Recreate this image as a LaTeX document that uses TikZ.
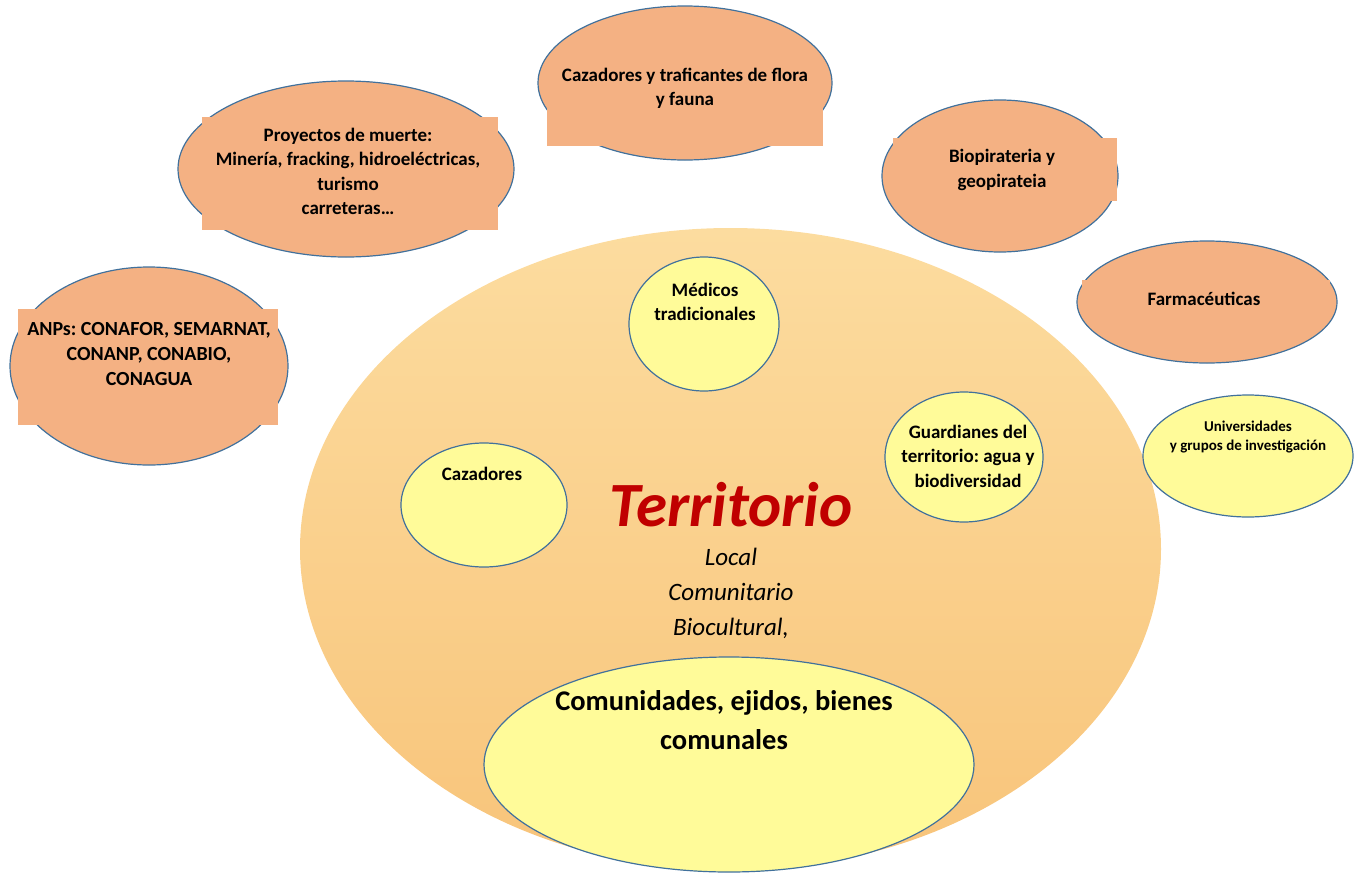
\documentclass[tikz,border=0pt]{standalone}
\usepackage{fontspec}
\setmainfont{Carlito}
\usepackage{xcolor}
\usepackage{tikz}
\usetikzlibrary{shapes.geometric}
\definecolor{terrlight}{HTML}{FCDC9F}
\definecolor{terrdeep}{HTML}{F8C47A}
\definecolor{actorsalmon}{HTML}{F4B183}
\definecolor{localyellow}{HTML}{FFFB99}
\definecolor{edgeblue}{HTML}{41719C}
\definecolor{terrred}{HTML}{C00000}
\frenchspacing

\begin{document}
\begin{tikzpicture}[x=1pt,y=-1pt,
 actorell/.style={ellipse,draw=edgeblue,line width=1.2pt,fill=actorsalmon,inner sep=0pt},
 localell/.style={ellipse,draw=edgeblue,line width=1.2pt,fill=localyellow,inner sep=0pt},
 lbl/.style={align=center,inner sep=0pt,text=black,font=\bfseries\fontsize{19}{24.5}\selectfont}]
% Canvas 1361 x 873 px, 1 px = 1 pt, y grows downwards
\useasboundingbox (0,0) rectangle (1361,873);

% ── Territory (shaded big ellipse) ──────────────────────────────
\node[ellipse,inner sep=0pt,minimum width=861,minimum height=642,
 top color=terrlight,bottom color=terrdeep] (terr) at (730.5,549) {};

% ── External actors (salmon ellipses, text box patches) ────────
\node[actorell,minimum width=336,minimum height=176] (proy) at (346,169) {};
\fill[actorsalmon] (202,117) rectangle (498,230);
\node[lbl] (proyT) at (348,171.5)
 {Proyectos de muerte:\\Minería, fracking, hidroeléctricas,\\turismo\\carreteras…};

\node[actorell,minimum width=278,minimum height=198] (anp) at (149,366) {};
\fill[actorsalmon] (18,309) rectangle (278,425);
\node[lbl,font=\bfseries\fontsize{20}{25}\selectfont] (anpT) at (149,354)
 {ANPs: CONAFOR, SEMARNAT,\\CONANP, CONABIO,\\CONAGUA};

\node[actorell,minimum width=294,minimum height=154] (traf) at (685,83) {};
\fill[actorsalmon] (547,58) rectangle (823,146);
\node[lbl] (trafT) at (685,88.5) {Cazadores y traficantes de flora\\y fauna};

\node[actorell,minimum width=236,minimum height=152] (bio) at (1000,176) {};
\fill[actorsalmon] (893,138) rectangle (1117,201);
\node[lbl] (bioT) at (1002,170) {Biopirateria y\\geopirateia};

\node[actorell,minimum width=260,minimum height=122] (farma) at (1207,302) {};
\fill[actorsalmon] (1082,280) rectangle (1330,318);
\node[lbl] (farmaT) at (1204,299) {Farmacéuticas};

% ── Universities (outside, over the territory edge) ────────────
\node[localell,minimum width=210,minimum height=122] (univ) at (1248,456) {};
\node[lbl,font=\bfseries\fontsize{15}{19}\selectfont] (univT) at (1248,437.5)
 {Universidades\\y grupos de investigación};

% ── Local actors inside the territory ──────────────────────────
\node[localell,minimum width=150,minimum height=134] (med) at (704,324) {};
\node[lbl] (medT) at (705,302) {Médicos\\tradicionales};

\node[localell,minimum width=158,minimum height=130] (guard) at (964,457) {};
\node[lbl] (guardT) at (968,456) {Guardianes del\\territorio: agua y\\biodiversidad};

\node[localell,minimum width=166,minimum height=124] (caz) at (484,505) {};
\node[lbl] (cazT) at (482,474) {Cazadores};

\node[localell,minimum width=490,minimum height=215] (comu) at (729,764.5) {};
\node[lbl,font=\bfseries\fontsize{28.5}{39}\selectfont] (comuT) at (724,720)
 {Comunidades, ejidos, bienes\\comunales};

% ── Title and scales ───────────────────────────────────────────
\node[font=\bfseries\itshape\fontsize{63}{72}\selectfont,text=terrred,inner sep=0pt]
 (terrT) at (731,505) {Territorio};
\node[font=\itshape\fontsize{25}{35}\selectfont,align=center,inner sep=0pt]
 (scaleT) at (731,593) {Local\\Comunitario\\Biocultural,};
\end{tikzpicture}
\end{document}
